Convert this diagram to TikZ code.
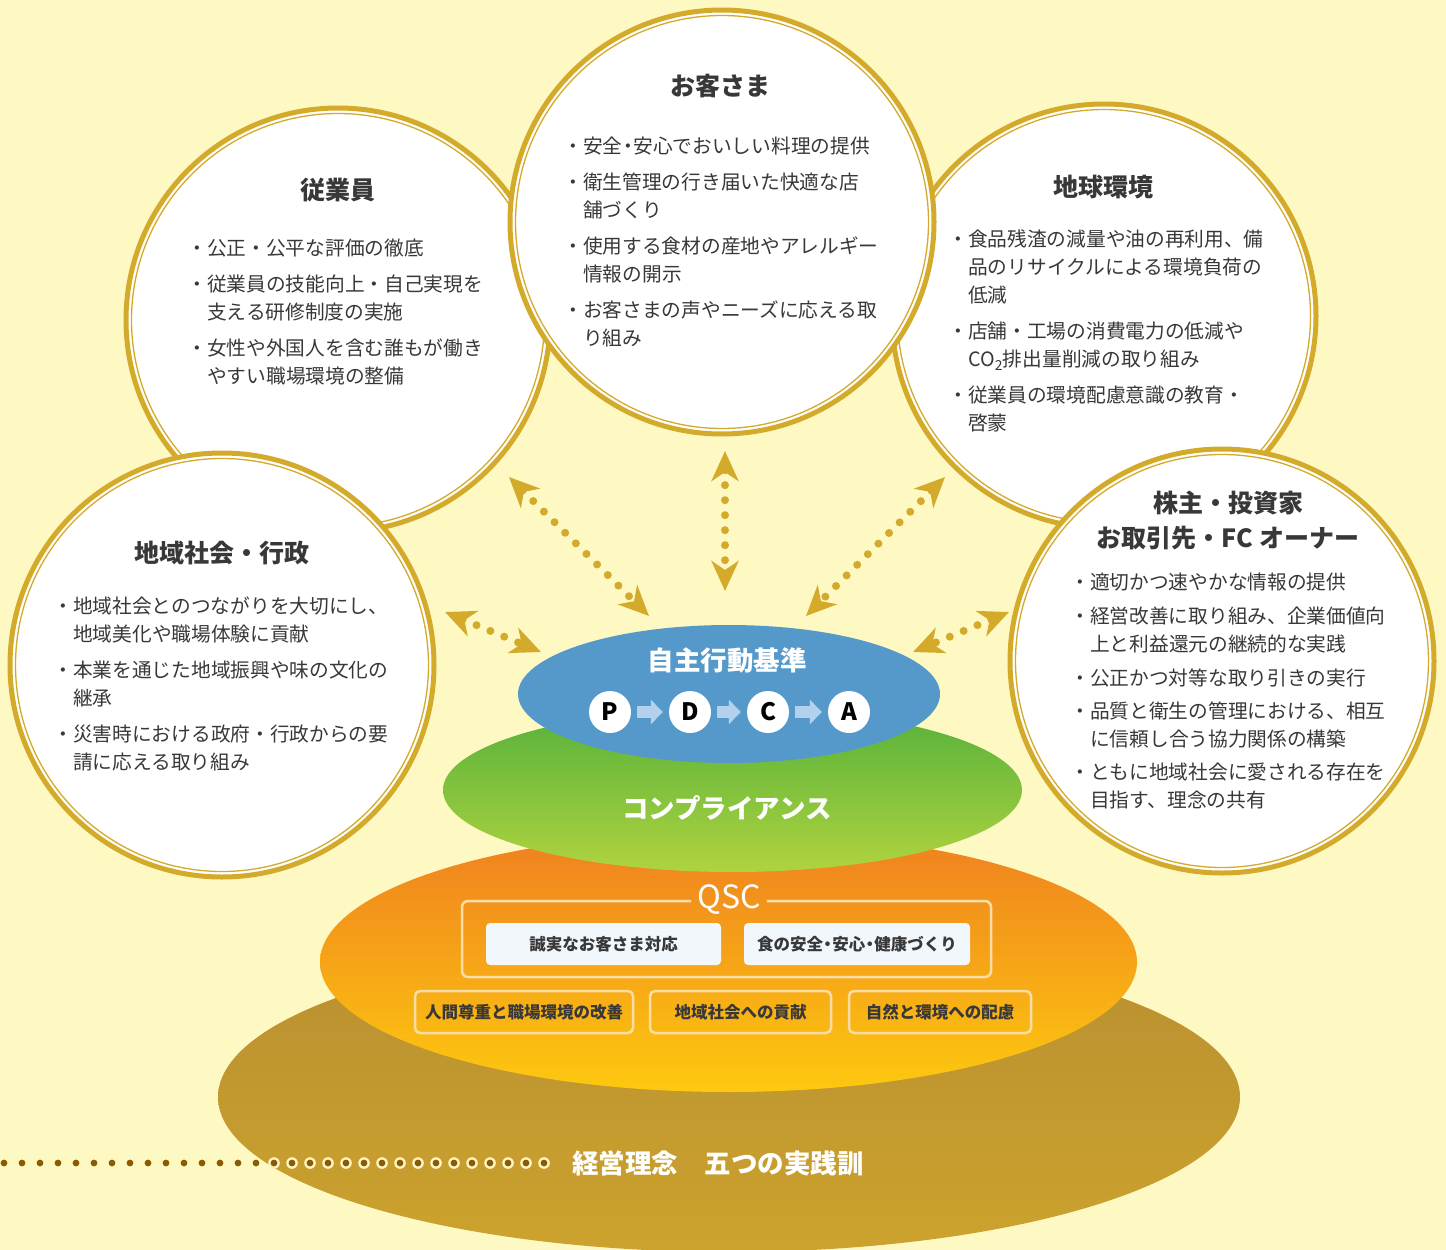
\documentclass[tikz,border=0pt]{standalone}
\usepackage{fontspec}
\setmainfont{Noto Sans CJK JP}
\usetikzlibrary{arrows.meta}
\definecolor{bg}{HTML}{FEF8C3}
\definecolor{gold}{HTML}{D4AA2B}
\definecolor{txt}{HTML}{383838}
\definecolor{blueel}{HTML}{5599CB}
\definecolor{grtop}{HTML}{55B13B}
\definecolor{grbot}{HTML}{B0D33F}
\definecolor{ortop}{HTML}{EF8020}
\definecolor{orbot}{HTML}{FDC90F}
\definecolor{brtop}{HTML}{B88F31}
\definecolor{brbot}{HTML}{CCA32D}
\definecolor{cream}{HTML}{FFF6C4}
\definecolor{dotbr}{HTML}{8A5A05}
\definecolor{pdarrc}{HTML}{B3D1EC}
\definecolor{boxfill}{HTML}{F2F7FC}
\definecolor{lightln}{HTML}{FCDDA4}
\newcommand\bulj{\makebox[20pt][c]{・}}
\newcommand\indj{\hspace*{20pt}}
\newcommand\ndj{\makebox[0.55em][c]{・}}
\tikzset{
  ring/.style={circle, fill=white, draw=gold, line width=5pt, minimum size=424pt, inner sep=0pt},
  innerring/.style={draw=gold, line width=1.3pt},
  ttl/.style={font=\fontsize{25}{35}\selectfont\bfseries, text=txt, align=center, inner sep=0pt},
  bl/.style={font=\fontsize{19.7}{28}\selectfont, text=txt, align=left, anchor=north west, inner sep=0pt},
  dotarr/.style={draw=gold, line width=8pt, dash pattern=on 0pt off 15pt, line cap=round,
     {Stealth[length=30pt,width=27pt,inset=9pt]}-{Stealth[length=30pt,width=27pt,inset=9pt]}},
  ellab/.style={font=\fontsize{26.5}{30}\selectfont\bfseries, text=white, inner sep=0pt},
  pd/.style={circle, fill=white, minimum size=42pt, inner sep=0pt, font=\fontsize{24}{24}\selectfont\bfseries, text=black},
  pdarr/.style={draw=pdarrc, line width=12pt, shorten <=6pt, shorten >=6pt, -{Triangle[length=12pt,width=24pt]}},
  wbox/.style={fill=boxfill, rounded corners=4pt, minimum width=235pt, minimum height=42pt, inner sep=0pt,
     font=\fontsize{16.5}{18}\selectfont\bfseries, text=txt},
  obox/.style={draw=lightln, line width=2.5pt, rounded corners=5pt, minimum height=42pt, inner sep=0pt,
     font=\fontsize{16.5}{18}\selectfont\bfseries, text=txt},
}
\begin{document}
\begin{tikzpicture}[x=1pt,y=-1pt]
\useasboundingbox (0,0) rectangle (1446,1250);
\fill[bg] (0,0) rectangle (1446,1250);

% ---- base ellipses ----
\shade[top color=brtop, bottom color=brbot] (729,1097) ellipse [x radius=511pt, y radius=155pt];
\begin{scope}
  \clip (729,1097) ellipse [x radius=511pt, y radius=155pt];
  \foreach \i in {0,...,30} \fill[cream] (4+18*\i,1163) circle (5.8pt);
\end{scope}
\foreach \i in {0,...,30} \fill[dotbr] (4+18*\i,1163) circle (3.4pt);
\node[ellab, anchor=west] (rinen) at (572,1163) {経営理念　五つの実践訓};

\shade[top color=ortop, bottom color=orbot] (728.5,962) ellipse [x radius=408.5pt, y radius=130pt];
\shade[top color=grtop, bottom color=grbot] (732.5,790) ellipse [x radius=289.5pt, y radius=82pt];
\fill[blueel] (729,694) ellipse [x radius=211pt, y radius=69pt];

\node[ellab] (jishu) at (727,660) {自主行動基準};
\node[ellab] (comp) at (727,808) {コンプライアンス};

% ---- PDCA ----
\node[pd] (P) at (610,712) {P};
\node[pd] (D) at (690,712) {D};
\node[pd] (C) at (768,712) {C};
\node[pd] (A) at (849,712) {A};
\draw[pdarr] (P) -- (D);
\draw[pdarr] (D) -- (C);
\draw[pdarr] (C) -- (A);

% ---- QSC ----
\node[font=\fontsize{32}{34}\selectfont, text=white, inner sep=0pt] (qsc) at (729,899) {QSC};
\coordinate (fL) at (462,901);
\coordinate (fR) at (991,901);
\draw[draw=lightln, line width=2.5pt, rounded corners=6pt]
  ([xshift=-6pt]qsc.west |- fL) -- (fL) -- (462,977) -- (991,977) -- (fR) -- ([xshift=6pt]qsc.east |- fR);
\node[wbox] (q1) at (603.5,944) {誠実なお客さま対応};
\node[wbox, minimum width=226pt] (q2) at (857,944) {食の安全\ndj 安心\ndj 健康づくり};
\node[obox, minimum width=218pt] (b1) at (524,1012) {人間尊重と職場環境の改善};
\node[obox, minimum width=181pt] (b2) at (740.5,1012) {地域社会への貢献};
\node[obox, minimum width=182pt] (b3) at (940,1012) {自然と環境への配慮};

% ---- circles ----
% employees
\node[ring] (emp) at (338,320) {};
\draw[innerring] (emp.center) circle (206.5pt);
\node[ttl] (empT) at (338,190) {従業員};
\node[bl] (empB) at (187,239) {\bulj 公正・公平な評価の徹底\\[8pt]
\bulj 従業員の技能向上・自己実現を\\
\indj 支える研修制度の実施\\[8pt]
\bulj 女性や外国人を含む誰もが働き\\
\indj やすい職場環境の整備};

% earth
\node[ring] (earth) at (1104,316) {};
\draw[innerring] (earth.center) circle (206.5pt);
\node[ttl] (earthT) at (1103,187) {地球環境};
\node[bl] (earthB) at (948,230) {\bulj 食品残渣の減量や油の再利用、備\\
\indj 品のリサイクルによる環境負荷の\\
\indj 低減\\[8pt]
\bulj 店舗・工場の消費電力の低減や\\
\indj CO\textsubscript{2}排出量削減の取り組み\\[8pt]
\bulj 従業員の環境配慮意識の教育・\\
\indj 啓蒙};

% customers
\node[ring] (cust) at (722,222) {};
\draw[innerring] (cust.center) circle (206.5pt);
\node[ttl] (custT) at (720,86) {お客さま};
\node[bl] (custB) at (563,137) {\bulj 安全\ndj 安心でおいしい料理の提供\\[8pt]
\bulj 衛生管理の行き届いた快適な店\\
\indj 舗づくり\\[8pt]
\bulj 使用する食材の産地やアレルギー\\
\indj 情報の開示\\[8pt]
\bulj お客さまの声やニーズに応える取\\
\indj り組み};

% community
\node[ring] (comm) at (222,665) {};
\draw[innerring] (comm.center) circle (206.5pt);
\node[ttl] (commT) at (222,553) {地域社会・行政};
\node[bl] (commB) at (53,597) {\bulj 地域社会とのつながりを大切にし、\\
\indj 地域美化や職場体験に貢献\\[8pt]
\bulj 本業を通じた地域振興や味の文化の\\
\indj 継承\\[8pt]
\bulj 災害時における政府・行政からの要\\
\indj 請に応える取り組み};

% shareholders
\node[ring] (share) at (1222,661) {};
\draw[innerring] (share.center) circle (206.5pt);
\node[ttl] (shareT) at (1228,520.5) {株主・投資家\\お取引先・FC オーナー};
\node[bl] (shareB) at (1070,573) {\bulj 適切かつ速やかな情報の提供\\[6pt]
\bulj 経営改善に取り組み、企業価値向\\
\indj 上と利益還元の継続的な実践\\[6pt]
\bulj 公正かつ対等な取り引きの実行\\[5pt]
\bulj 品質と衛生の管理における、相互\\
\indj に信頼し合う協力関係の構築\\[5pt]
\bulj ともに地域社会に愛される存在を\\
\indj 目指す、理念の共有};

% ---- dotted double arrows ----
\coordinate (a1s) at (509,477); \coordinate (a1e) at (649,616);
\coordinate (a2s) at (725,451); \coordinate (a2e) at (725,591);
\coordinate (a3s) at (945,477); \coordinate (a3e) at (806,616);
\coordinate (a4s) at (445,612); \coordinate (a4e) at (541,652);
\coordinate (a5s) at (1009,612); \coordinate (a5e) at (913,652);
\draw[dotarr] (a1s) -- (a1e);
\draw[dotarr] (a2s) -- (a2e);
\draw[dotarr] (a3s) -- (a3e);
\draw[dotarr] (a4s) -- (a4e);
\draw[dotarr] (a5s) -- (a5e);
\end{tikzpicture}
\end{document}
